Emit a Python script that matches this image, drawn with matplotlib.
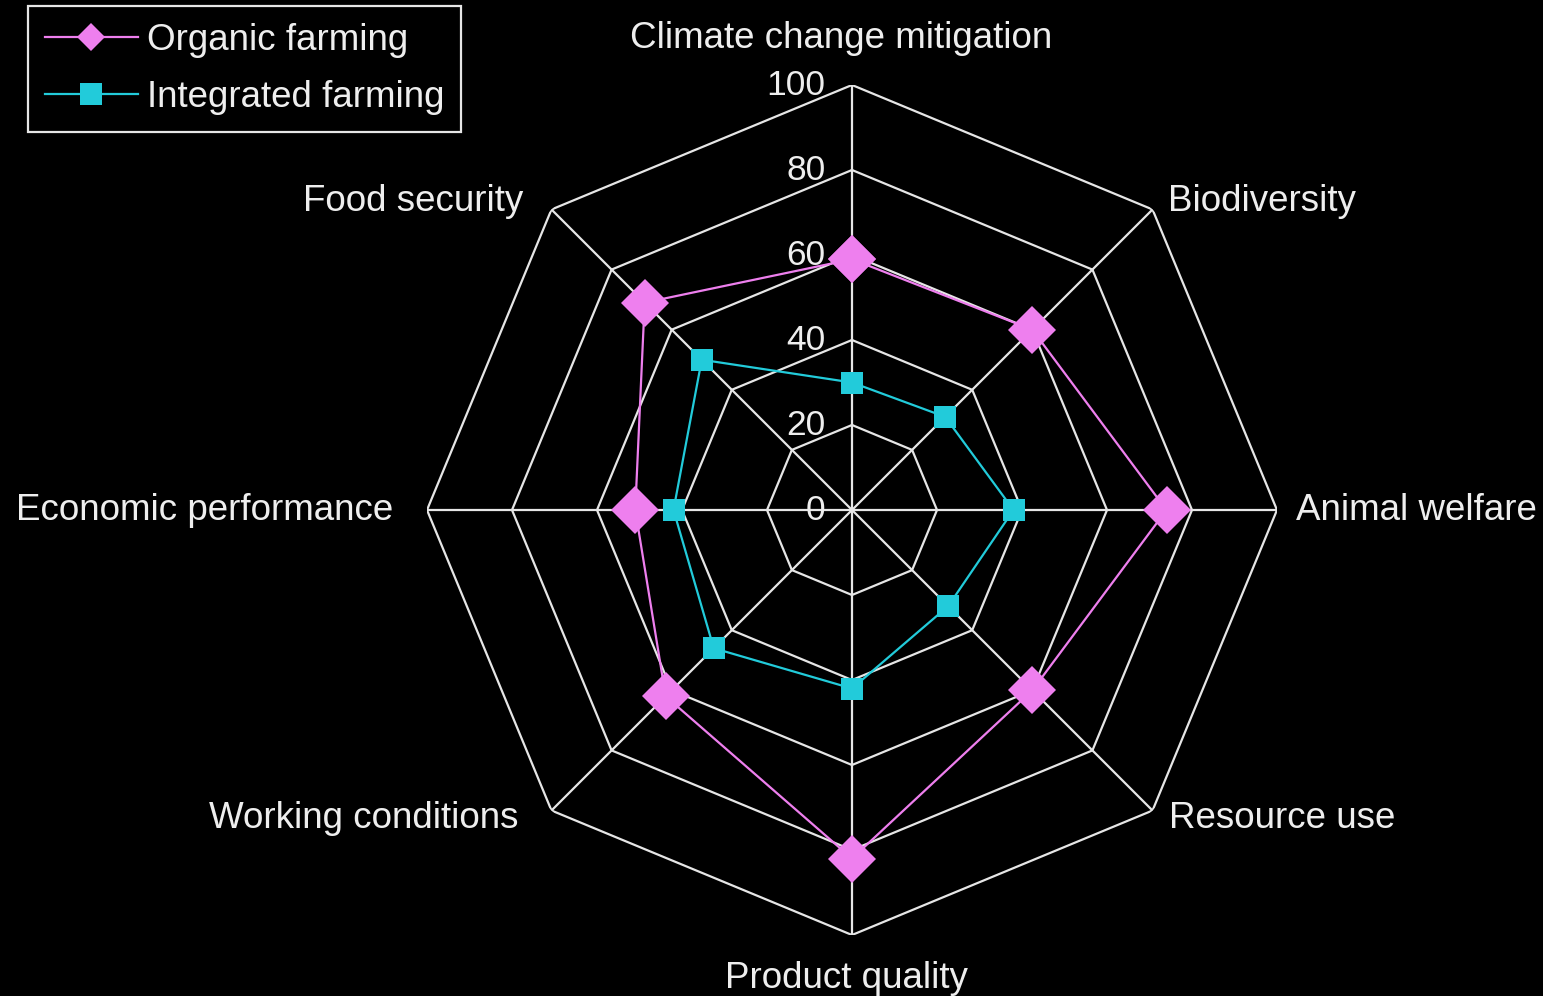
import numpy as np
import matplotlib
matplotlib.use("Agg")
import matplotlib.pyplot as plt
from matplotlib.lines import Line2D

categories = ["Climate change mitigation", "Biodiversity", "Animal welfare", "Resource use",
              "Product quality", "Working conditions", "Economic performance", "Food security"]
organic = [59, 60, 74, 60, 82, 62, 51, 69]
integrated = [30, 31, 38, 32, 42, 46, 42, 50]
ticks = [0, 20, 40, 60, 80, 100]

plt.rcParams['font.family'] = ['Liberation Sans', 'DejaVu Sans']
FG = '#EEEEEE'
GRID = '#E6E6E6'
C_ORG = '#EE7FEE'
C_INT = '#22CBDA'
FS = 26.5

fig = plt.figure(figsize=(15.43, 9.96), dpi=100, facecolor='black')
ax = fig.add_axes([(852 - 425) / 1543, (996 - 510 - 425) / 996, 850 / 1543, 850 / 996],
                  projection='polar', facecolor='black')
ax.set_theta_zero_location('N')
ax.set_theta_direction(-1)
ax.set_ylim(0, 100)
ax.grid(False)
ax.spines['polar'].set_visible(False)
ax.set_xticks([])
ax.set_yticks([])

n = len(categories)
angles = np.arange(n) * 2 * np.pi / n
closed = np.append(angles, angles[0])

# octagonal grid
for t in ticks[1:]:
    ax.plot(closed, [t] * (n + 1), color=GRID, lw=1.6, zorder=1)
for a in angles:
    ax.plot([a, a], [0, 100], color=GRID, lw=1.6, zorder=1)

# tick labels
for t in ticks:
    ax.annotate(str(t), xy=(0, t), xytext=(-19, 0), textcoords='offset points',
                ha='right', va='center', color=FG, fontsize=FS - 1, zorder=2)

# category labels
label_specs = [
    (0, 'center', 'bottom', (-8, 21)),
    (1, 'left', 'center', (11, 6)),
    (2, 'left', 'center', (14, 0)),
    (3, 'left', 'center', (12, -6)),
    (4, 'center', 'top', (-4, -19)),
    (5, 'right', 'center', (-24, -6)),
    (6, 'right', 'center', (-24, 0)),
    (7, 'right', 'center', (-20, 6)),
]
for i, ha, va, off in label_specs:
    ax.annotate(categories[i], xy=(angles[i], 100), xytext=off, textcoords='offset points',
                ha=ha, va=va, color=FG, fontsize=FS, annotation_clip=False)

ax.plot(closed, integrated + integrated[:1], color=C_INT, lw=1.6, marker='s', ms=16,
        markeredgewidth=0, zorder=3, clip_on=False)
ax.plot(closed, organic + organic[:1], color=C_ORG, lw=1.6, marker='D', ms=24,
        markeredgewidth=0, zorder=4, clip_on=False)

handles = [Line2D([], [], color=C_ORG, lw=1.6, marker='D', ms=14, markeredgewidth=0),
           Line2D([], [], color=C_INT, lw=1.6, marker='s', ms=16, markeredgewidth=0)]
leg = fig.legend(handles, ["Organic farming", "Integrated farming"], loc='upper left',
                 bbox_to_anchor=(28 / 1543, 1 - 6 / 996), borderaxespad=0,
                 fontsize=FS, handlelength=2.55, handletextpad=0.22, labelspacing=0.62,
                 borderpad=0.45, fancybox=False, framealpha=1, facecolor='black',
                 edgecolor=GRID, labelcolor=FG)
leg.get_frame().set_linewidth(1.6)

fig.savefig('out.png', dpi=100, facecolor='black')
